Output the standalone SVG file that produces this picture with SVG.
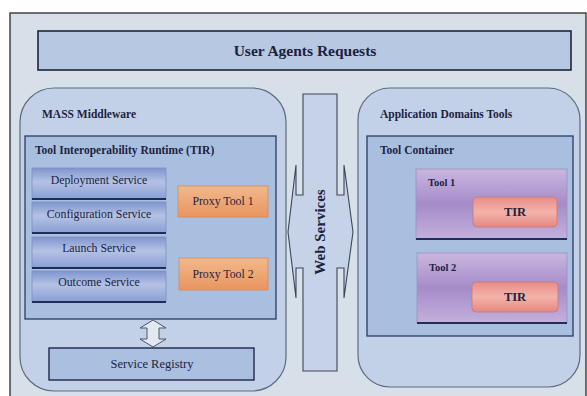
<svg xmlns="http://www.w3.org/2000/svg" width="587" height="396" viewBox="0 0 587 396">
<defs>
<linearGradient id="gSvc" x1="0" y1="0" x2="0" y2="1">
<stop offset="0" stop-color="#7f95cf"/><stop offset="0.45" stop-color="#b4c2e4"/><stop offset="1" stop-color="#889ed4"/>
</linearGradient>
<linearGradient id="gProxy" x1="0" y1="0" x2="0" y2="1">
<stop offset="0" stop-color="#f2b88c"/><stop offset="1" stop-color="#e99560"/>
</linearGradient>
<linearGradient id="gTool" x1="0" y1="0" x2="0" y2="1">
<stop offset="0" stop-color="#c9b6df"/><stop offset="0.5" stop-color="#a58cc9"/><stop offset="1" stop-color="#c3b0dc"/>
</linearGradient>
<linearGradient id="gTir" x1="0" y1="0" x2="0" y2="1">
<stop offset="0" stop-color="#e88c88"/><stop offset="0.5" stop-color="#f3b3a9"/><stop offset="1" stop-color="#e58781"/>
</linearGradient>
<style>
text{font-family:"Liberation Serif","Times New Roman",serif;fill:#1c2340}
.b{font-weight:bold}
.h{font-weight:bold;font-size:11.5px}
.n{font-size:11.8px}
.panel{fill:#c3d1e8;stroke:#5d6b80;stroke-width:1.2}
.box{fill:#a9bfe0;stroke:#2b3a66;stroke-width:1.3}
.svc{fill:url(#gSvc);stroke:#7d90c0;stroke-width:0.8}
.edge{stroke:#1f2c5c;stroke-width:2}
.proxy{fill:url(#gProxy);stroke:#d88a58;stroke-width:0.8}
.tool{fill:url(#gTool);stroke:#9d8fc0;stroke-width:0.8}
.tir{fill:url(#gTir);stroke:#c87873;stroke-width:0.8}
.ws{fill:#c6d2e7;stroke:#3c4658;stroke-width:1.1}
</style>
</defs>
<rect x="0" y="0" width="587" height="396" fill="#ffffff"/>
<g id="frame"><rect x="10" y="13" width="576" height="390" fill="#d7dfe9" stroke="#2a2a2a" stroke-width="1.3"/></g>
<g id="user-agents">
<rect x="38" y="31" width="533" height="39" fill="#b7c8e2" stroke="#1d2540" stroke-width="1.6"/>
<text class="b" x="305" y="56" font-size="15.5" text-anchor="middle">User Agents Requests</text>
</g>
<g id="mass-middleware">
<rect class="panel" x="20" y="88" width="266" height="303" rx="34"/>
<text class="h" x="42" y="118">MASS Middleware</text>
</g>
<g id="tir">
<rect class="box" x="25" y="136" width="251" height="183"/>
<text class="h" x="35" y="154">Tool Interoperability Runtime (TIR)</text>
</g>
<g id="deployment-service">
<rect class="svc" x="32" y="168" width="134" height="31"/><line class="edge" x1="32" y1="199" x2="166" y2="199"/>
<text class="n" x="99" y="184" text-anchor="middle">Deployment Service</text>
</g>
<g id="configuration-service">
<rect class="svc" x="32" y="202" width="134" height="31"/><line class="edge" x1="32" y1="233" x2="166" y2="233"/>
<text class="n" x="99" y="218" text-anchor="middle">Configuration Service</text>
</g>
<g id="launch-service">
<rect class="svc" x="32" y="237" width="134" height="31"/><line class="edge" x1="32" y1="268" x2="166" y2="268"/>
<text class="n" x="99" y="252" text-anchor="middle">Launch Service</text>
</g>
<g id="outcome-service">
<rect class="svc" x="32" y="271" width="134" height="31"/><line class="edge" x1="32" y1="302" x2="166" y2="302"/>
<text class="n" x="99" y="286" text-anchor="middle">Outcome Service</text>
</g>
<g id="proxy-tool-1">
<rect class="proxy" x="178" y="186" width="90" height="31"/>
<text class="n" x="223" y="205" text-anchor="middle">Proxy Tool 1</text>
</g>
<g id="proxy-tool-2">
<rect class="proxy" x="179" y="258" width="89" height="32"/>
<text class="n" x="223" y="278" text-anchor="middle">Proxy Tool 2</text>
</g>
<g id="service-registry">
<rect x="49" y="348" width="205" height="32" fill="#abc0e0" stroke="#1d2848" stroke-width="1.4"/>
<text x="152" y="368" font-size="12.5" text-anchor="middle">Service Registry</text>
</g>
<g id="web-services">
<path class="ws" d="M303,94 H337 V195 H344 V165 L353,232 L344,298 V268 H337 V371 H303 V268 H296 V298 L288,232 L296,165 V195 H303 Z"/>
<text class="b" transform="translate(325,232) rotate(-90)" font-size="15" text-anchor="middle">Web Services</text>
</g>
<g id="application-domains-tools">
<rect class="panel" x="358" y="88" width="222" height="299" rx="32"/>
<text class="h" x="380" y="118">Application Domains Tools</text>
</g>
<g id="tool-container">
<rect class="box" x="367" y="136" width="206" height="200"/>
<text class="h" x="380" y="154">Tool Container</text>
</g>
<g id="tool-1">
<rect class="tool" x="416" y="169" width="151" height="70"/><line class="edge" x1="416" y1="239" x2="567" y2="239"/>
<text class="b" x="428" y="186" font-size="10.5">Tool 1</text>
</g>
<g id="tir-1">
<rect class="tir" x="473" y="197" width="84" height="30" rx="4"/>
<text class="b" x="515" y="216" font-size="12.5" text-anchor="middle">TIR</text>
</g>
<g id="tool-2">
<rect class="tool" x="417" y="253" width="150" height="70"/><line class="edge" x1="417" y1="323" x2="567" y2="323"/>
<text class="b" x="429" y="271" font-size="10.5">Tool 2</text>
</g>
<g id="tir-2">
<rect class="tir" x="472" y="282" width="86" height="30" rx="4"/>
<text class="b" x="515" y="301" font-size="12.5" text-anchor="middle">TIR</text>
</g>
<g id="connectors">
<path d="M153,320 L166,328 H159 V339 H166 L153,347 L140,339 H147 V328 H140 Z" fill="#e2e8f0" stroke="#4a5568" stroke-width="1"/>
</g>
</svg>
